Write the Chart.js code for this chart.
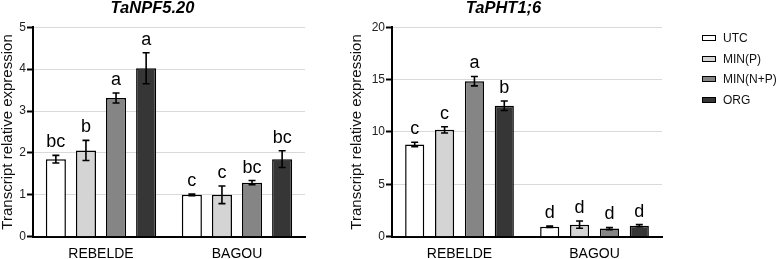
<!DOCTYPE html>
<html>
<head>
<meta charset="utf-8">
<script src="https://cdn.jsdelivr.net/npm/chart.js@4.4.0/dist/chart.umd.min.js"></script>
<style>
  body { margin: 0; background: #fff; width: 778px; height: 259px; overflow: hidden; position: relative; font-family: "Liberation Sans", Arial, sans-serif; }
  #cajaNPF { position: absolute; left: 0; top: 0; width: 355px; height: 259px; }
  #cajaPHT { position: absolute; left: 345px; top: 0; width: 380px; height: 259px; }
  #leyenda { position: absolute; left: 702px; top: 28px; font-size: 12px; color: #111; }
  .item { height: 20.7px; line-height: 20.7px; white-space: nowrap; }
  .caja { display: inline-block; box-sizing: border-box; width: 14px; height: 6px; border: 1.5px solid #000; margin-right: 7px; vertical-align: middle; position: relative; top: -1px; }
</style>
</head>
<body>
<div id="cajaNPF"><canvas id="chartNPF"></canvas></div>
<div id="cajaPHT"><canvas id="chartPHT"></canvas></div>
<div id="leyenda"></div>

<script>
// variedades y tratamientos
const variedades = ["REBELDE", "BAGOU"];
const tratamientos = ["UTC", "MIN(P)", "MIN(N+P)", "ORG"];
const colores = ["#ffffff", "#d4d4d4", "#858585", "#363636"];

// TaNPF5.20 (media, error, letra) por tratamiento: [REBELDE, BAGOU]
const npfUTC = [1.85, 1.0];
const npfMINP = [2.06, 1.0];
const npfMINNP = [3.31, 1.29];
const npfORG = [4.02, 1.85];
const npfErrUTC = [0.09, 0.02];
const npfErrMINP = [0.24, 0.21];
const npfErrMINNP = [0.12, 0.05];
const npfErrORG = [0.37, 0.2];
const npfLetrasUTC = ["bc", "c"];
const npfLetrasMINP = ["b", "c"];
const npfLetrasMINNP = ["a", "bc"];
const npfLetrasORG = ["a", "bc"];
const npfTicks = [0, 1, 2, 3, 4, 5];

// TaPHT1;6
const phtUTC = [8.8, 0.95];
const phtMINP = [10.2, 1.15];
const phtMINNP = [14.85, 0.78];
const phtORG = [12.5, 1.05];
const phtErrUTC = [0.22, 0.06];
const phtErrMINP = [0.3, 0.35];
const phtErrMINNP = [0.45, 0.1];
const phtErrORG = [0.45, 0.1];
const phtLetrasUTC = ["c", "d"];
const phtLetrasMINP = ["c", "d"];
const phtLetrasMINNP = ["a", "d"];
const phtLetrasORG = ["b", "d"];
const phtTicks = [0, 5, 10, 15, 20];

const FUENTE = "'Liberation Sans', Arial, sans-serif";

// dibuja barras de error y letras de significancia
const barrasError = {
  id: "barrasError",
  afterDatasetsDraw(chart) {
    const { ctx } = chart;
    const y = chart.scales.y;
    ctx.save();
    chart.data.datasets.forEach((ds, i) => {
      const meta = chart.getDatasetMeta(i);
      meta.data.forEach((barra, j) => {
        const v = ds.data[j];
        const e = ds.errores[j];
        const yArriba = y.getPixelForValue(v + e);
        const yAbajo = y.getPixelForValue(v - e);
        ctx.strokeStyle = "#000";
        ctx.lineWidth = 1.6;
        ctx.beginPath();
        ctx.moveTo(barra.x, yArriba);
        ctx.lineTo(barra.x, yAbajo);
        ctx.moveTo(barra.x - 3.5, yArriba);
        ctx.lineTo(barra.x + 3.5, yArriba);
        ctx.moveTo(barra.x - 3.5, yAbajo);
        ctx.lineTo(barra.x + 3.5, yAbajo);
        ctx.stroke();

        ctx.fillStyle = "#000";
        ctx.font = "18px " + FUENTE;
        ctx.textAlign = "center";
        ctx.textBaseline = "alphabetic";
        ctx.fillText(ds.letras[j], barra.x, yArriba - 8);
      });
    });
    ctx.restore();
  },
};

function armarDatasets(valores, errores, letras, barPct) {
  return tratamientos.map((t, i) => ({
    label: t,
    data: valores[i],
    errores: errores[i],
    letras: letras[i],
    backgroundColor: colores[i],
    borderColor: "#000",
    borderWidth: 1.5,
    categoryPercentage: 0.885,
    barPercentage: barPct,
  }));
}

function crearChart(canvasId, titulo, datasets, ticks, paso, anchoEjeY, tituloPad, padDerecha) {
  return new Chart(document.getElementById(canvasId), {
    type: "bar",
    data: { labels: variedades, datasets },
    options: {
      responsive: true,
      maintainAspectRatio: false,
      animation: false,
      layout: { padding: { right: padDerecha, top: 0, bottom: 0, left: 0 } },
      plugins: {
        legend: { display: false },
        tooltip: { enabled: false },
        title: {
          display: true,
          text: titulo,
          color: "#000",
          font: { family: FUENTE, size: 16.5, weight: "bold", style: "italic", lineHeight: 1 },
          padding: { top: 0, bottom: 10.7 },
        },
      },
      scales: {
        x: {
          grid: { display: false, drawTicks: false },
          border: { display: true, color: "#000", width: 2 },
          ticks: { color: "#000", font: { family: FUENTE, size: 14 }, padding: 9 },
          afterFit: (s) => { s.height = 22.3; },
        },
        y: {
          min: ticks[0],
          max: ticks[ticks.length - 1],
          afterBuildTicks: (s) => { s.ticks = ticks.map((v) => ({ value: v })); },
          grid: { color: "#d9d9d9", lineWidth: 1, tickColor: "#000", tickLength: 6, tickWidth: 2 },
          border: { display: true, color: "#000", width: 2 },
          ticks: { stepSize: paso, color: "#222", padding: 1, font: { family: FUENTE, size: 12 } },
          title: {
            display: true,
            text: "Transcript relative expression",
            color: "#111",
            font: { family: FUENTE, size: 15, lineHeight: 1 },
            padding: { top: tituloPad, bottom: 0 },
          },
          afterFit: (s) => { s.width = anchoEjeY; },
        },
      },
    },
    plugins: [barrasError],
  });
}

crearChart(
  "chartNPF",
  "TaNPF5.20",
  armarDatasets(
    [npfUTC, npfMINP, npfMINNP, npfORG],
    [npfErrUTC, npfErrMINP, npfErrMINNP, npfErrORG],
    [npfLetrasUTC, npfLetrasMINP, npfLetrasMINNP, npfLetrasORG],
    0.667
  ),
  npfTicks, 1, 33, 0, 50
);

crearChart(
  "chartPHT",
  "TaPHT1;6",
  armarDatasets(
    [phtUTC, phtMINP, phtMINNP, phtORG],
    [phtErrUTC, phtErrMINP, phtErrMINNP, phtErrORG],
    [phtLetrasUTC, phtLetrasMINP, phtLetrasMINNP, phtLetrasORG],
    0.64
  ),
  phtTicks, 5, 47, 4, 63
);

// leyenda
const leyenda = document.getElementById("leyenda");
tratamientos.forEach((t, i) => {
  const fila = document.createElement("div");
  fila.className = "item";
  fila.innerHTML = `<span class="caja" style="background:${colores[i]}"></span>${t}`;
  leyenda.appendChild(fila);
});
</script>
</body>
</html>
